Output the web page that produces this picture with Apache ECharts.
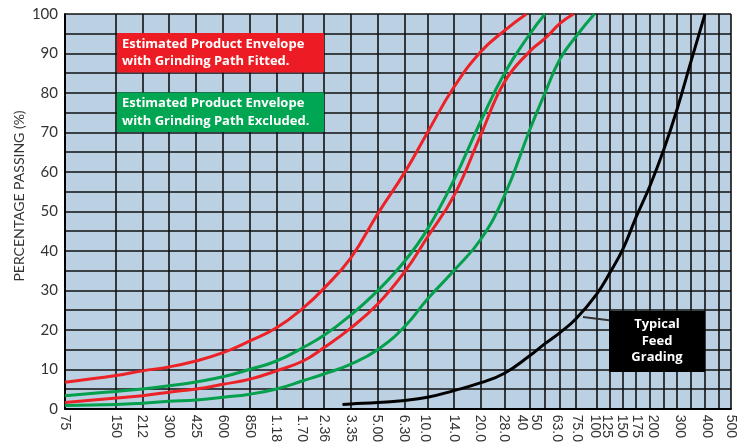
<!DOCTYPE html>
<html>
<head>
<meta charset="utf-8">
<script src="https://cdn.jsdelivr.net/npm/echarts@6/dist/echarts.min.js"></script>
<style>
html,body{margin:0;padding:0;background:#fff;}
#chart{width:750px;height:445px;}
</style>
</head>
<body>
<div id="chart"></div>
<script>
// Sieve sizes (mm) of every vertical grid line
const sieveSizes = [0.075, 0.15, 0.212, 0.3, 0.425, 0.6, 0.85, 1.18, 1.7, 2.36, 3.35, 5.0, 6.3, 10, 14, 20, 28, 40, 50, 63, 75, 100, 125, 150, 175, 200, 250, 300, 350, 400, 450, 500];
// Position of each of those sizes along the (non-uniform) chart scale, in axis units
const sievePos = [0, 51, 77.5, 104, 131, 158, 185, 211.5, 238, 259, 286, 313, 340, 362.5, 389, 416, 439.5, 465, 480, 495, 511, 531.5, 545, 558, 571, 585, 599, 612, 626, 640, 653.5, 666];
// Printed tick labels and where they sit on the scale
const tickLabels = ['75', '150', '212', '300', '425', '600', '850', '1.18', '1.70', '2.36', '3.35', '5.00', '6.30', '10.0', '14.0', '20.0', '28.0', '40', '50', '63.0', '75.0', '100', '125', '150', '175', '200', '300', '400', '500'];
const tickLabelPos = [0, 50.5, 77, 103.5, 131, 157.5, 184.5, 211, 236.5, 258.5, 285.5, 312, 338.5, 360, 388.5, 415, 438.5, 457, 471, 492, 511.5, 529.5, 542, 557, 571.5, 588, 615, 641.5, 665.7];

// Series: sizes (mm) and percentage passing
const fittedFineSize = [0.075, 0.15, 0.212, 0.3, 0.425, 0.6, 0.85, 1.18, 1.7, 2.36, 3.35, 5.0, 6.3, 10, 14, 20, 28, 38];
const fittedFine     = [6.7, 8.4, 9.6, 10.6, 12.1, 14.2, 17.2, 20.5, 25.5, 30.5, 38.3, 49.5, 60.0, 70.0, 81.5, 90.5, 95.8, 100];
const fittedCoarseSize = [0.075, 0.15, 0.212, 0.3, 0.425, 0.6, 0.85, 1.18, 1.7, 2.36, 3.35, 5.0, 6.3, 10, 14, 20, 28, 40, 50, 63, 73];
const fittedCoarse     = [1.6, 2.7, 3.3, 4.2, 5.0, 6.2, 7.5, 9.6, 12.1, 15.5, 20.5, 26.6, 34.8, 43.5, 54.0, 69.5, 82.8, 90.6, 93.8, 97.6, 100];
const exclFineSize = [0.075, 0.15, 0.212, 0.3, 0.425, 0.6, 0.85, 1.18, 1.7, 2.36, 3.35, 5.0, 6.3, 10, 14, 20, 28, 40, 50];
const exclFine     = [3.3, 4.4, 5.0, 5.8, 6.8, 8.1, 10.0, 12.1, 15.5, 18.6, 23.8, 30.0, 37.5, 45.5, 58.0, 73.0, 85.0, 95.0, 100];
const exclCoarseSize = [0.075, 0.15, 0.212, 0.3, 0.425, 0.6, 0.85, 1.18, 1.7, 2.36, 3.35, 5.0, 6.3, 10, 14, 20, 28, 40, 50, 63, 75, 97];
const exclCoarse     = [0.8, 1.05, 1.4, 1.9, 2.2, 2.9, 3.7, 5.0, 7.1, 8.8, 11.3, 15.0, 20.9, 27.8, 35.0, 43.0, 54.0, 70.8, 80.0, 88.6, 94.3, 100];
const feedSize = [3.0, 3.35, 5.0, 6.3, 10, 14, 20, 28, 40, 50, 63, 75, 100, 125, 150, 175, 200, 250, 300, 350, 400];
const feed     = [1.05, 1.2, 1.6, 2.1, 2.9, 4.6, 6.6, 9.0, 13.5, 16.5, 19.3, 22.8, 29.0, 34.5, 40.5, 48.5, 56.5, 65.8, 75.8, 88.0, 100];

// map a size (mm) onto the chart's scale: log interpolation between grid lines
function toPos(mm) {
  for (let i = 0; i < sieveSizes.length - 1; i++) {
    const a = sieveSizes[i], b = sieveSizes[i + 1];
    if (mm >= a && mm <= b) {
      const f = Math.log(mm / a) / Math.log(b / a);
      return sievePos[i] + f * (sievePos[i + 1] - sievePos[i]);
    }
  }
  return mm < sieveSizes[0] ? sievePos[0] : sievePos[sievePos.length - 1];
}
function pairs(sizes, vals) { return sizes.map((s, i) => [toPos(s), vals[i]]); }

const RED = '#ec2227', GREEN = '#04a04c', BLACK = '#000';
const chart = echarts.init(document.getElementById('chart'));
function lineSeries(name, data, color) {
  return { name, type: 'line', data, smooth: 0.45, symbol: 'none', clip: true,
    lineStyle: { color, width: 3 }, z: 5 };
}
const boxText = { fontFamily: 'Open Sans', fontWeight: 'bold', fontSize: 13, fill: '#fff' };
chart.setOption({
  animation: false,
  grid: { left: 65, right: 19, top: 14, bottom: 33.5, show: true, backgroundColor: '#bcd0e4', borderWidth: 0 },
  xAxis: {
    type: 'value', min: 0, max: 666,
    axisLine: { show: true, onZero: false, lineStyle: { color: '#000', width: 2 } },
    axisTick: { show: false, customValues: sievePos },
    splitLine: { show: true, lineStyle: { color: '#111', width: 1.6 } },
    axisLabel: {
      customValues: tickLabelPos, rotate: -90, margin: 6,
      fontFamily: 'Liberation Sans', fontSize: 14, color: '#333',
      formatter: v => { const i = tickLabelPos.indexOf(v); return i >= 0 ? tickLabels[i] : ''; }
    }
  },
  yAxis: {
    type: 'value', min: 0, max: 100, interval: 5,
    axisLine: { show: true, lineStyle: { color: '#000', width: 2 } },
    axisTick: { show: false },
    splitLine: { show: true, lineStyle: { color: '#111', width: 1.6 } },
    axisLabel: {
      margin: 7, fontFamily: 'Lato', fontSize: 15, color: '#333', padding: [5, 0, 0, 0],
      formatter: v => (v % 10 === 0 ? String(v) : '')
    }
  },
  series: [
    lineSeries('Fitted fine', pairs(fittedFineSize, fittedFine), RED),
    lineSeries('Fitted coarse', pairs(fittedCoarseSize, fittedCoarse), RED),
    lineSeries('Excluded fine', pairs(exclFineSize, exclFine), GREEN),
    lineSeries('Excluded coarse', pairs(exclCoarseSize, exclCoarse), GREEN),
    lineSeries('Typical Feed Grading', pairs(feedSize, feed), BLACK)
  ],
  graphic: [
    { type: 'text', x: 19.5, y: 196, rotation: Math.PI / 2, z: 10,
      style: { text: 'PERCENTAGE PASSING (%)', fontFamily: 'Lato', fontSize: 14, fill: '#333', align: 'center', verticalAlign: 'middle' } },
    { type: 'rect', shape: { x: 117, y: 33, width: 207, height: 39.5 }, style: { fill: '#ed1c24' }, z: 10 },
    { type: 'text', x: 122, y: 53, z: 11,
      style: Object.assign({ text: 'Estimated Product Envelope\nwith Grinding Path Fitted.', lineHeight: 17.5, verticalAlign: 'middle' }, boxText) },
    { type: 'rect', shape: { x: 117, y: 92.5, width: 207, height: 39.5 }, style: { fill: '#00a651' }, z: 10 },
    { type: 'text', x: 122, y: 112.5, z: 11,
      style: Object.assign({ text: 'Estimated Product Envelope\nwith Grinding Path Excluded.', lineHeight: 17.5, verticalAlign: 'middle' }, boxText) },
    { type: 'line', shape: { x1: 583, y1: 317, x2: 627, y2: 322.5 }, style: { stroke: '#333', lineWidth: 2 }, z: 10 },
    { type: 'rect', shape: { x: 609, y: 311, width: 96, height: 61 }, style: { fill: '#000' }, z: 10 },
    { type: 'text', x: 657, y: 341, z: 11,
      style: Object.assign({ text: 'Typical\nFeed\nGrading', lineHeight: 16.5, align: 'center', verticalAlign: 'middle' }, boxText) }
  ]
});
</script>
</body>
</html>
